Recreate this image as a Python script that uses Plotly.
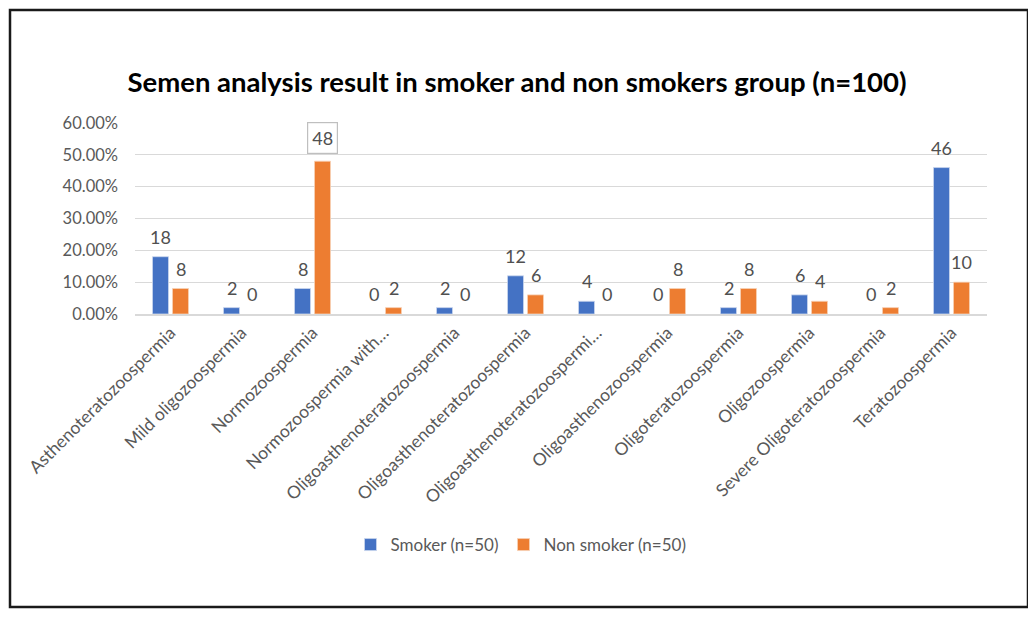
import plotly.graph_objects as go

categories = [
    "Asthenoteratozoospermia",
    "Mild oligozoospermia",
    "Normozoospermia",
    "Normozoospermia with…",
    "Oligoasthenoteratozoospermia",
    "Oligoasthenoteratozoospermia",
    "Oligoasthenoteratozoospermi…",
    "Oligoasthenozoospermia",
    "Oligoteratozoospermia",
    "Oligozoospermia",
    "Severe Oligoteratozoospermia",
    "Teratozoospermia",
]
smoker = [18, 2, 8, 0, 2, 12, 4, 0, 2, 6, 0, 46]
non_smoker = [8, 0, 48, 2, 0, 6, 0, 8, 8, 4, 2, 10]
y_ticks = [0, 10, 20, 30, 40, 50, 60]

FONT = "Lato"
GRAY = "#595959"
LABEL = "#505050"
BLUE = "#4472C4"
ORANGE = "#ED7D31"

x_idx = list(range(len(categories)))
boxed = non_smoker.index(max(non_smoker))

# page body has an 8px margin; the figure is sized/offset to compensate
OFF = 8
W, H = 1036 - OFF, 620 - OFF
L, R, T, B = 135 - OFF, 49, 123 - OFF, 306
pw, ph = W - L - R, H - T - B

fig = go.Figure()
fig.add_trace(go.Bar(
    x=x_idx, y=[v / 100 for v in smoker], name="Smoker (n=50)",
    marker=dict(color=BLUE, line=dict(color="#C9D6EE",
                                      width=[0.8 if v > 0 else 0 for v in smoker])),
))
fig.add_trace(go.Bar(
    x=x_idx, y=[v / 100 for v in non_smoker], name="Non smoker (n=50)",
    marker=dict(color=ORANGE, line=dict(color="#F8D0B5",
                                        width=[0.8 if v > 0 else 0 for v in non_smoker])),
))

# data labels
for series, shift in ((smoker, -10), (non_smoker, 10)):
    for i, v in zip(x_idx, series):
        is_box = series is non_smoker and i == boxed
        fig.add_annotation(
            x=i, y=v / 100, xref="x", yref="y",
            text=str(v), showarrow=False,
            xshift=shift, yshift=7 if is_box else 8, yanchor="bottom",
            font=dict(family=FONT, size=18, color=LABEL),
            bordercolor="#BFBFBF" if is_box else "rgba(0,0,0,0)",
            borderwidth=1.2 if is_box else 0,
            borderpad=4 if is_box else 1,
            bgcolor="white" if is_box else "rgba(0,0,0,0)",
        )

# outer frame
fig.add_shape(
    type="rect", xref="paper", yref="paper",
    x0=(10 - OFF - L) / pw, x1=(1028 - OFF - L) / pw,
    y0=(H - B - (607 - OFF)) / ph, y1=(H - B - (10 - OFF)) / ph,
    line=dict(color="#1a1a1a", width=2.5), layer="below",
)

fig.update_layout(
    width=W, height=H,
    margin=dict(l=L, r=R, t=T, b=B),
    paper_bgcolor="white", plot_bgcolor="white",
    title=dict(
        text="<b>Semen analysis result in smoker and non smokers group (n=100)</b>",
        x=(517 - OFF) / W, xref="container", xanchor="center",
        y=1 - (82 - OFF) / H, yref="container", yanchor="middle",
        font=dict(family=FONT, size=27.5, color="#000000"),
    ),
    barmode="group", bargap=0.437, bargroupgap=0.2,
    showlegend=True,
    legend=dict(
        orientation="h", x=(521 - OFF) / W, xref="container", xanchor="center",
        y=1 - (545 - OFF) / H, yref="container", yanchor="middle",
        font=dict(family=FONT, size=17, color=GRAY),
        itemwidth=30, traceorder="normal",
    ),
    xaxis=dict(
        tickmode="array", tickvals=x_idx, ticktext=categories,
        tickangle=-45, tickfont=dict(family=FONT, size=17.5, color=GRAY),
        range=[-0.5, len(categories) - 0.5],
        showline=True, linecolor="#D9D9D9", linewidth=1.5,
        showgrid=False, ticks="", zeroline=False, fixedrange=True,
    ),
    yaxis=dict(
        range=[0, 0.6], tickmode="array", tickvals=[v / 100 for v in y_ticks],
        ticktext=[f"{v:.2f}%" for v in y_ticks],
        tickfont=dict(family=FONT, size=16.5, color=GRAY),
        showgrid=True, gridcolor="#D9D9D9", gridwidth=1.2,
        zeroline=False, showline=False, ticks="", ticklabelstandoff=16,
    ),
)

fig.write_html("out.html")
